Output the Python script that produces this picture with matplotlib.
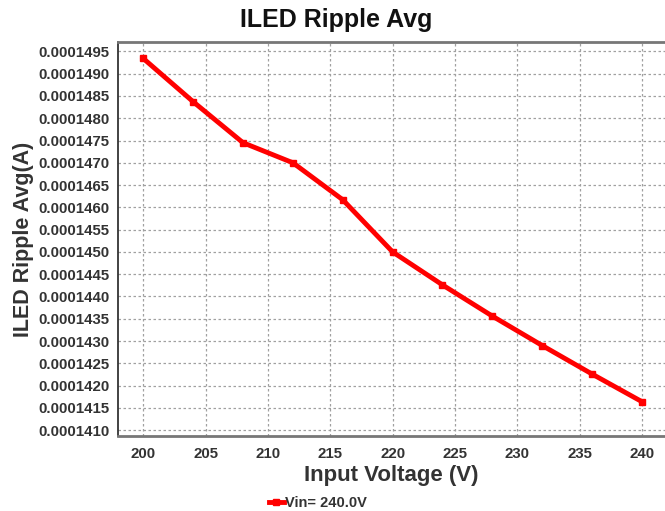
import matplotlib
matplotlib.use("Agg")
import matplotlib.pyplot as plt
from matplotlib.ticker import FixedLocator, FormatStrFormatter

vin = [200, 204, 208, 212, 216, 220, 224, 228, 232, 236, 240]
ripple = [0.00014934, 0.00014837, 0.00014745, 0.00014700, 0.00014617,
          0.00014500, 0.00014426, 0.00014356, 0.00014290, 0.00014226, 0.00014164]
xticks = [200, 205, 210, 215, 220, 225, 230, 235, 240]
yticks = [0.0001410 + 0.0000005 * i for i in range(18)]
series_label = "Vin= 240.0V"

plt.rcParams['font.family'] = ['Liberation Sans', 'DejaVu Sans']

fig = plt.figure(figsize=(6.65, 5.11), dpi=100)
ax = fig.add_axes([118/665, 1 - 436/511, (665 - 118)/665, (436 - 42)/511])

ax.plot(vin, ripple, color='#ff0000', linewidth=3.5, marker='s', markersize=5,
        label=series_label, solid_joinstyle='miter')

ax.set_xlim(197.97, 241.85)
ax.set_ylim(0.00014087, 0.00014971)
ax.xaxis.set_major_locator(FixedLocator(xticks))
ax.yaxis.set_major_locator(FixedLocator(yticks))
ax.yaxis.set_major_formatter(FormatStrFormatter('%.7f'))
ax.grid(True, color='#a0a0a0', linestyle=(0, (2, 2)), linewidth=0.9)

for lab in ax.get_xticklabels() + ax.get_yticklabels():
    lab.set_fontweight('bold')
    lab.set_color('#333333')
ax.tick_params(axis='both', length=0, labelsize=10.8)
ax.tick_params(axis='y', pad=6)
ax.tick_params(axis='x', pad=8)

ax.spines['right'].set_visible(False)
ax.spines['top'].set_color('#777777')
ax.spines['top'].set_linewidth(2)
ax.spines['bottom'].set_color('#777777')
ax.spines['bottom'].set_linewidth(2)
ax.spines['left'].set_color('#222222')
ax.spines['left'].set_linewidth(1.2)

ax.set_xlabel('Input Voltage (V)', fontsize=16, fontweight='bold', color='#333333', labelpad=3)
ax.set_ylabel('ILED Ripple Avg(A)', fontsize=15.5, fontweight='bold', color='#333333', labelpad=3)
fig.text(336/665, 1 - 20/511, 'ILED Ripple Avg', fontsize=18, fontweight='bold',
         color='#111111', ha='center', va='center')

leg = fig.legend(loc='center', bbox_to_anchor=(318/665, 1 - 503/511), frameon=False,
                 handlelength=1.0, handletextpad=0.1, prop={'weight': 'bold', 'size': 10.5})
for t in leg.get_texts():
    t.set_color('#333333')

fig.savefig('out.png', dpi=100)
